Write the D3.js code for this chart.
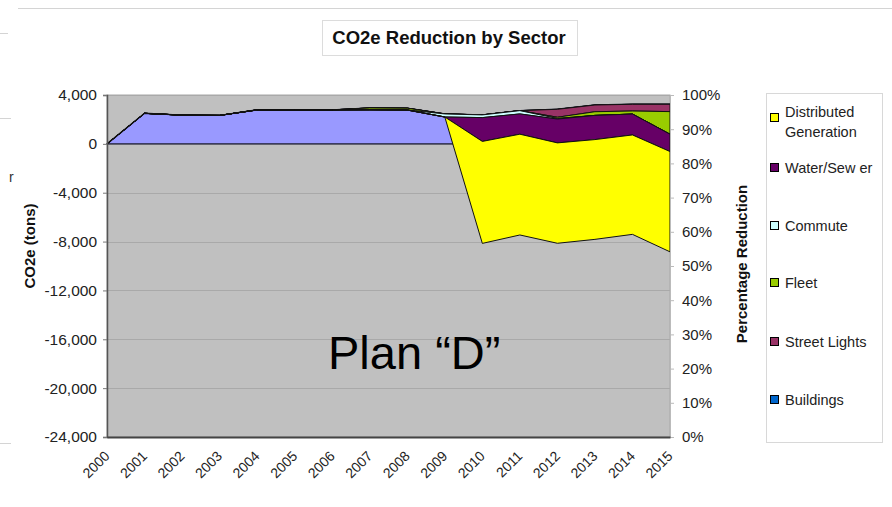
<!DOCTYPE html>
<html>
<head>
<meta charset="utf-8">
<script src="https://cdn.jsdelivr.net/npm/d3@7"></script>
<style>
  html, body { margin: 0; padding: 0; background: #fff; }
  svg { display: block; font-family: "Liberation Sans", Arial, sans-serif; }
</style>
</head>
<body>
<svg id="chart" width="892" height="507"></svg>
<script>
// Years on the category axis
const years = ["2000","2001","2002","2003","2004","2005","2006","2007",
               "2008","2009","2010","2011","2012","2013","2014","2015"];

// Emissions growth before reductions (tons CO2e)
const growth       = [0, 2500, 2350, 2330, 2780, 2780, 2780, 2940, 2920, 2450, 2370, 2720, 2830, 3180, 3240, 3240];
// Reductions by sector (tons CO2e, negative = reduction)
const buildings    = [0, 0, 0, 0, 0, 0, 0, 0, 0, 0, 0, 0, 0, 0, 0, 0];
const streetLights = [0, 0, 0, 0, 0, 0, 0, 0, 0, 0, 0, 0, -650, -550, -550, -600];
const fleet        = [0, 0, 0, 0, 0, 0, 0, -150, -150, 0, 0, 0, -100, -300, -250, -1850];
const commute      = [0, 0, 0, 0, 0, 0, 0, 0, 0, -250, -220, -270, -50, 0, 0, 0];
const waterSewer   = [0, 0, 0, 0, 0, 0, 0, 0, 0, 0, -1950, -1660, -1950, -1980, -1710, -1420];
const distGen      = [0, 0, 0, 0, 0, 0, 0, 0, 0, 0, -8350, -8250, -8220, -8170, -8140, -8210];

// Axis ticks
const leftTicks  = [4000, 0, -4000, -8000, -12000, -16000, -20000, -24000];
const rightTicks = [0, 0.1, 0.2, 0.3, 0.4, 0.5, 0.6, 0.7, 0.8, 0.9, 1.0];

// Stack order, bottom first
const seriesKeys   = ["Growth", "Buildings", "Street Lights", "Fleet", "Commute", "Water/Sew er", "Distributed Generation"];
const seriesValues = [growth, buildings, streetLights, fleet, commute, waterSewer, distGen];
const seriesColors = ["#9999ff", "#0066cc", "#993366", "#99cc00", "#ccffff", "#660066", "#ffff00"];

// Legend entries, top to bottom
const legendKeys = ["Distributed Generation", "Water/Sew er", "Commute", "Fleet", "Street Lights", "Buildings"];

const svg = d3.select("#chart");
const plot = { left: 107, right: 670, top: 95, bottom: 437 };

const x = d3.scalePoint().domain(years).range([plot.left, plot.right]);
const y = d3.scaleLinear().domain([-24000, 4000]).range([plot.bottom, plot.top]);
const yPct = d3.scaleLinear().domain([0, 1]).range([plot.bottom, plot.top]);
const color = d3.scaleOrdinal().domain(seriesKeys).range(seriesColors);

// Faint slide remnants and chart frame
const frame = svg.append("g").attr("stroke", "#d4d4d4").attr("stroke-width", 1);
frame.append("line").attr("x1", 18).attr("x2", 892).attr("y1", 8.5).attr("y2", 8.5);
frame.append("line").attr("x1", 0).attr("x2", 8).attr("y1", 33.5).attr("y2", 33.5);
frame.append("line").attr("x1", 0).attr("x2", 11).attr("y1", 118.5).attr("y2", 118.5);
frame.append("line").attr("x1", 0).attr("x2", 11).attr("y1", 443.5).attr("y2", 443.5);
svg.append("text").attr("x", 9).attr("y", 182).attr("font-size", 14).attr("fill", "#333").text("r");

// Title
svg.append("rect").attr("x", 322.5).attr("y", 20.5).attr("width", 255).attr("height", 35)
  .attr("fill", "#fff").attr("stroke", "#dcdcdc");
svg.append("text").attr("x", 449).attr("y", 44).attr("text-anchor", "middle")
  .attr("font-size", 18.5).attr("font-weight", "bold").attr("fill", "#111")
  .text("CO2e Reduction by Sector");

// Plot background
svg.append("rect").attr("x", plot.left).attr("y", plot.top)
  .attr("width", plot.right - plot.left).attr("height", plot.bottom - plot.top)
  .attr("fill", "#c0c0c0").attr("stroke", "#a8a8a8");

// Gridlines
svg.append("g").selectAll("line").data(leftTicks).join("line")
  .attr("x1", plot.left).attr("x2", plot.right)
  .attr("y1", d => Math.round(y(d)) + 0.5).attr("y2", d => Math.round(y(d)) + 0.5)
  .attr("stroke", "#a9a9a9").attr("stroke-width", 1);

// Stacked areas
const table = years.map((yr, i) => {
  const row = { year: yr };
  seriesKeys.forEach((k, s) => { row[k] = seriesValues[s][i]; });
  return row;
});
const stacked = d3.stack().keys(seriesKeys).offset(d3.stackOffsetNone)(table);

const area = d3.area()
  .x(d => x(d.data.year))
  .y0(d => y(d[0]))
  .y1(d => y(d[1]));

svg.append("g").selectAll("path").data(stacked).join("path")
  .attr("d", area)
  .attr("fill", d => color(d.key))
  .attr("stroke", d => d.key === "Growth" ? "#1a1a33" : "#111")
  .attr("stroke-width", d => d.key === "Growth" ? 1.4 : 1)
  .attr("stroke-linejoin", "round");

// Left axis
const leftAxis = d3.axisLeft(y).tickValues(leftTicks).tickSize(4).tickPadding(6)
  .tickFormat(d3.format(",d"));
const gl = svg.append("g").attr("transform", `translate(${plot.left},0)`).call(leftAxis);
gl.select(".domain").attr("stroke", "#555").attr("stroke-width", 1.5);
gl.selectAll(".tick line").attr("stroke", "#777");
gl.selectAll(".tick text").attr("font-size", 15.5).attr("fill", "#222")
  .attr("font-family", "Liberation Sans, Arial, sans-serif")
  .text(d => d3.format(",d")(d).replace("−", "-"));

// Right axis
const rightAxis = d3.axisRight(yPct).tickValues(rightTicks).tickSize(4).tickPadding(8)
  .tickFormat(d3.format(".0%"));
const gr = svg.append("g").attr("transform", `translate(${plot.right},0)`).call(rightAxis);
gr.select(".domain").attr("stroke", "#bbb");
gr.selectAll(".tick line").attr("stroke", "#bbb");
gr.selectAll(".tick text").attr("font-size", 15).attr("fill", "#222")
  .attr("font-family", "Liberation Sans, Arial, sans-serif");

// Bottom axis
const bottomAxis = d3.axisBottom(x).tickSize(0).tickPadding(0);
const gb = svg.append("g").attr("transform", `translate(0,${plot.bottom})`).call(bottomAxis);
gb.select(".domain").attr("stroke", "#444").attr("stroke-width", 2);
gb.selectAll(".tick text")
  .attr("font-size", 14).attr("fill", "#222")
  .attr("font-family", "Liberation Sans, Arial, sans-serif")
  .attr("text-anchor", "end")
  .attr("dy", 0)
  .attr("transform", "translate(3,20) rotate(-45)");

// Axis titles
svg.append("text").attr("transform", "translate(35,246) rotate(-90)")
  .attr("text-anchor", "middle").attr("font-size", 15).attr("font-weight", "bold")
  .attr("fill", "#111").text("CO2e (tons)");
svg.append("text").attr("transform", "translate(747,264) rotate(-90)")
  .attr("text-anchor", "middle").attr("font-size", 15).attr("font-weight", "bold")
  .attr("fill", "#111").text("Percentage Reduction");

// Plan label
svg.append("text").attr("x", 328).attr("y", 369).attr("font-size", 47)
  .attr("fill", "#000").text("Plan \u201cD\u201d");

// Legend
const lg = svg.append("g");
lg.append("rect").attr("x", 766.5).attr("y", 93.5).attr("width", 116).attr("height", 349)
  .attr("fill", "#fff").attr("stroke", "#d8d8d8");
const legendY = [118, 168, 226, 283, 342, 400];
legendKeys.forEach((k, i) => {
  const g = lg.append("g").attr("transform", `translate(770,${legendY[i]})`);
  g.append("rect").attr("x", 0.5).attr("y", -4.5).attr("width", 8).attr("height", 8)
    .attr("fill", k === "Buildings" ? "#0066cc" : color(k)).attr("stroke", "#000");
  const t = g.append("text").attr("x", 15).attr("font-size", 14.5).attr("fill", "#222");
  if (k === "Distributed Generation") {
    t.append("tspan").attr("x", 15).attr("y", -1).text("Distributed");
    t.append("tspan").attr("x", 15).attr("y", 19).text("Generation");
  } else {
    t.attr("y", 5).text(k);
  }
});
</script>
</body>
</html>
